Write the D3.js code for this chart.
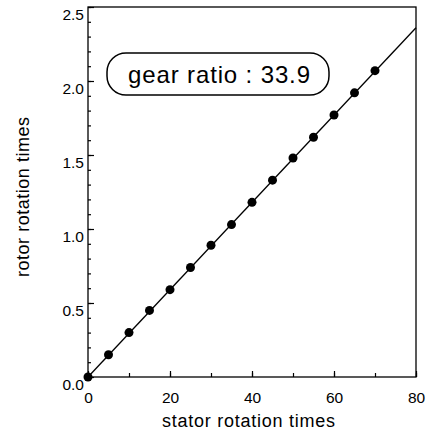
<!DOCTYPE html>
<html>
<head>
<meta charset="utf-8">
<script src="https://cdn.jsdelivr.net/npm/d3@7"></script>
<style>
  body { margin: 0; background: #fff; }
  svg { font-family: "Liberation Sans", Arial, sans-serif; }
</style>
</head>
<body>
<div id="chart"></div>
<script>
// data
const statorTurns = [0, 5, 10, 15, 20, 25, 30, 35, 40, 45, 50, 55, 60, 65, 70];
const rotorTurns = [0, 0.15, 0.30, 0.45, 0.59, 0.74, 0.89, 1.03, 1.18, 1.33, 1.48, 1.62, 1.77, 1.92, 2.07];
const fitLine = [[0, 0], [80, 2.36]];
const xTicks = [0, 20, 40, 60, 80];
const yTicks = [0, 0.5, 1.0, 1.5, 2.0, 2.5];
const ratioLabel = "gear ratio : 33.9";

const margin = {top: 7, right: 12, bottom: 59, left: 88},
    width = 428 - margin.left - margin.right,
    height = 436 - margin.top - margin.bottom;

const svg = d3.select("#chart")
    .append("svg")
    .attr("width", 428)
    .attr("height", 436);
const g = svg.append("g")
    .attr("transform", `translate(${margin.left},${margin.top})`);

const x = d3.scaleLinear().domain([0, 80]).range([0, width]);
const y = d3.scaleLinear().domain([0, 2.5]).range([height, 0]);

// frame
g.append("rect")
    .attr("width", width)
    .attr("height", height)
    .attr("fill", "none")
    .attr("stroke", "#000")
    .attr("stroke-width", 1.3);

// x axis: ticks point inward
g.append("g")
    .attr("transform", `translate(0,${height})`)
    .call(d3.axisBottom(x).tickValues(d3.range(0, 81, 10)).tickSize(-4).tickFormat(""))
    .call(a => a.select(".domain").remove());
g.append("g")
    .attr("transform", `translate(0,${height})`)
    .call(d3.axisBottom(x).tickValues(xTicks).tickSize(-6).tickPadding(15).tickFormat(d3.format("d")))
    .call(a => a.select(".domain").remove())
    .selectAll("text")
    .style("font-size", "15.5px")
    .attr("fill", "#000");

// y axis
g.append("g")
    .call(d3.axisLeft(y).tickValues(d3.range(0, 26).map(d => d / 10)).tickSize(-3).tickFormat(""))
    .call(a => a.select(".domain").remove());
g.append("g")
    .call(d3.axisLeft(y).tickValues(yTicks).tickSize(-6).tickPadding(4).tickFormat(d3.format(".1f")))
    .call(a => a.select(".domain").remove())
    .selectAll("text")
    .style("font-size", "15.5px")
    .attr("dy", "0.8em")
    .attr("fill", "#000");

g.selectAll(".tick line").attr("stroke", "#000").attr("stroke-width", 1.2);

// fit line
g.append("path")
    .datum(fitLine)
    .attr("fill", "none")
    .attr("stroke", "#000")
    .attr("stroke-width", 1.3)
    .attr("d", d3.line().x(d => x(d[0])).y(d => y(d[1])));

// measured points
g.selectAll("circle")
    .data(statorTurns)
    .enter()
    .append("circle")
    .attr("cx", d => x(d))
    .attr("cy", (d, i) => y(rotorTurns[i]))
    .attr("r", 4.5)
    .attr("fill", "#000");

// label box
svg.append("rect")
    .attr("x", 107)
    .attr("y", 53)
    .attr("width", 222)
    .attr("height", 42)
    .attr("rx", 19)
    .attr("ry", 19)
    .attr("fill", "#fff")
    .attr("stroke", "#000")
    .attr("stroke-width", 1.5);
svg.append("text")
    .attr("x", 128)
    .attr("y", 83)
    .attr("textLength", 182)
    .attr("lengthAdjust", "spacing")
    .style("font-size", "24px")
    .text(ratioLabel);

// axis titles
svg.append("text")
    .attr("x", 162)
    .attr("y", 427)
    .attr("textLength", 173)
    .attr("lengthAdjust", "spacing")
    .style("font-size", "18px")
    .text("stator rotation times");
svg.append("text")
    .attr("transform", "rotate(-90)")
    .attr("x", -277)
    .attr("y", 29)
    .attr("textLength", 160)
    .attr("lengthAdjust", "spacing")
    .style("font-size", "18px")
    .text("rotor rotation times");
</script>
</body>
</html>
